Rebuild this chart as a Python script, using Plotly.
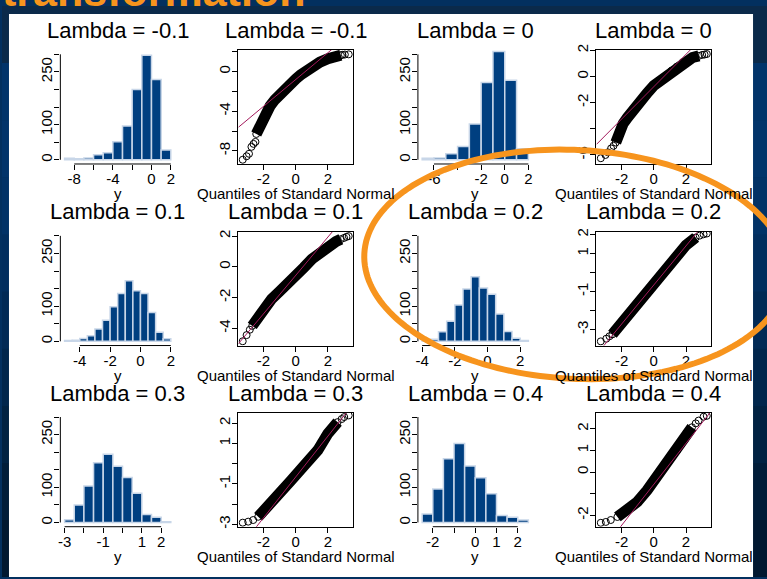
import numpy as np
import plotly.graph_objects as go

W, H = 767, 579
FONT = "Liberation Sans, Arial, Helvetica, sans-serif"

# ---------------- data ----------------
lambdas = ["-0.1", "0", "0.1", "0.2", "0.3", "0.4"]

hist_start = [-9, -7, -5, -4, -3, -2.5]
hist_width = [1, 1, 0.5, 0.5, 0.5, 0.5]
hist_counts_m01 = [4, 3, 5, 14, 20, 51, 96, 200, 297, 228, 28]
hist_counts_0 = [4, 5, 17, 38, 102, 220, 308, 226, 31]
hist_counts_01 = [2, 3, 8, 16, 35, 60, 98, 136, 172, 144, 136, 82, 26, 7]
hist_counts_02 = [1, 6, 27, 57, 103, 149, 184, 152, 134, 78, 28, 9, 2]
hist_counts_03 = [8, 50, 104, 170, 194, 160, 128, 83, 23, 15, 2]
hist_counts_04 = [24, 95, 181, 225, 161, 127, 82, 20, 15, 7]
hist_counts = [hist_counts_m01, hist_counts_0, hist_counts_01,
               hist_counts_02, hist_counts_03, hist_counts_04]

hist_xticks = [[-8, -6, -4, -2, 0, 2], [-6, -4, -2, 0, 2], [-4, -2, 0, 2],
               [-4, -2, 0, 2], [-3, -2, -1, 0, 1, 2], [-2, -1, 0, 1, 2]]
hist_xlabels = [["-8", "", "-4", "", "0", "2"], ["-6", "", "-2", "0", "2"],
                ["-4", "-2", "0", "2"], ["-4", "-2", "0", "2"],
                ["-3", "", "-1", "", "1", "2"], ["-2", "", "0", "1", "2"]]
hist_yticks = [0, 50, 100, 150, 200, 250, 300]
hist_ylabels = ["0", "", "100", "", "", "250", ""]

# QQ plots: dense band points and isolated circles (theoretical, sample)
qq_band_x = [
    [-2.45, -2.3, -2.1, -1.9, -1.6, -1.3, -1.0, -0.67, -0.3, 0, 0.3, 0.67, 1.0, 1.5, 2.0, 2.4, 2.8],
    [-2.36, -2.16, -1.9, -1.64, -1.3, -1.02, -0.67, -0.41, 0, 0.21, 0.5, 0.83, 1.1, 1.44, 1.8, 2.06, 2.4, 2.8],
    [-2.7, -2.4, -2.0, -1.5, -1.0, -0.5, 0, 0.5, 1.0, 1.5, 2.0, 2.5, 2.8],
    [-2.57, -2.0, -1.0, 0, 1.0, 2.0, 2.6],
    [-2.33, -1.71, -1.09, -0.27, 0.55, 1.37, 1.99, 2.6],
    [-2.26, -1.64, -1.02, -0.41, 0.21, 0.83, 1.44, 1.96, 2.37],
]
qq_band_y = [
    [-6.3, -5.7, -5.0, -4.3, -3.5, -2.85, -2.3, -1.72, -1.15, -0.75, -0.35, 0.15, 0.5, 0.95, 1.3, 1.5, 1.65],
    [-5.05, -4.3, -3.6, -3.15, -2.55, -2.14, -1.62, -1.26, -0.7, -0.5, -0.15, 0.13, 0.45, 0.76, 1.1, 1.27, 1.45, 1.58],
    [-3.85, -3.35, -2.8, -2.1, -1.6, -1.15, -0.6, -0.05, 0.5, 0.95, 1.35, 1.65, 1.8],
    [-3.25, -2.65, -1.65, -0.6, 0.45, 1.45, 1.85],
    [-2.63, -2.13, -1.56, -0.82, -0.08, 0.66, 1.48, 2.05],
    [-2.08, -1.77, -1.38, -0.84, -0.23, 0.46, 1.0, 1.54, 2.07],
]
qq_pts_x = [
    [-3.29, -3.05, -2.9, -2.75, -2.62, -2.5, 2.9, 3.05, 3.29],
    [-3.29, -3.0, -2.85, -2.65, -2.5, 3.0, 3.15, 3.29],
    [-3.29, -3.05, -2.85, 3.0, 3.15, 3.29],
    [-3.29, -2.95, -2.75, 2.85, 3.09, 3.29],
    [-3.29, -2.95, -2.64, 2.85, 3.01, 3.29],
    [-3.29, -2.98, -2.67, 2.6, 2.78, 3.09, 3.29],
]
qq_pts_y = [
    [-8.9, -8.55, -8.3, -7.6, -7.3, -7.1, 1.69, 1.72, 1.74],
    [-6.25, -6.0, -5.8, -5.5, -5.3, 1.65, 1.68, 1.72],
    [-4.85, -4.45, -4.1, 1.88, 1.95, 2.0],
    [-3.62, -3.48, -3.35, 1.95, 2.02, 2.06],
    [-2.92, -2.87, -2.79, 2.2, 2.3, 2.38],
    [-2.35, -2.31, -2.22, 2.25, 2.38, 2.56, 2.6],
]
qq_line_intercept = [-0.8, -0.78, -0.56, -0.65, -0.66, -0.57]
qq_line_slope = [1.355, 1.24, 1.25, 1.03, 1.01, 0.95]

qq_yrange = [[-9.33, 2.17], [-6.69, 2.02], [-5.13, 2.29],
             [-3.84, 2.16], [-3.12, 2.51], [-2.53, 2.74]]
qq_yticks = [[-8, -6, -4, -2, 0, 2], [-6, -4, -2, 0, 2], [-4, -2, 0, 2],
             [-3, -2, -1, 0, 1, 2], [-3, -2, -1, 0, 1, 2], [-2, -1, 0, 1, 2]]
qq_ylabels = [["-8", "", "-4", "", "0", ""], ["-6", "", "-2", "0", "2"],
              ["-4", "-2", "0", "2"], ["-3", "", "-1", "", "1", "2"],
              ["-3", "", "-1", "", "1", "2"], ["-2", "", "0", "1", "2"]]
qq_xticks = [-2, 0, 2]
qq_xrange = [-3.56, 3.56]

# ---------------- layout geometry (pixels) ----------------
col_left = [58.5, 237.0, 417.0, 596.0]
col_w = 115.0
row_top = [44.7, 228.8, 412.5]
row_h = 115.5

BAR_FILL = "#003f80"
BAR_EDGE = "#c8d6e8"
QQ_LINE = "#a3195b"
ORANGE = "#f7941d"


def px(x):
    return x / W


def py(y):
    return 1 - y / H


fig = go.Figure()
layout = dict(width=W, height=H, margin=dict(l=0, r=0, t=0, b=0),
              paper_bgcolor="#03305f", plot_bgcolor="rgba(0,0,0,0)",
              showlegend=False, font=dict(family=FONT, color="black"))
shapes = []
annotations = []

# background bands (slide gradient)
bg_cols = ["#0b2a4a", "#02346a", "#02346a", "#023266", "#022e5e", "#022a55",
           "#01264c", "#012242", "#011d39", "#011830"]
for i, c in enumerate(bg_cols):
    shapes.append(dict(type="rect", xref="paper", yref="paper", layer="below",
                       x0=0, x1=1, y0=1 - (i + 1) / len(bg_cols), y1=1 - i / len(bg_cols),
                       fillcolor=c, line=dict(width=0)))
# white panel
shapes.append(dict(type="rect", xref="paper", yref="paper", layer="below",
                   x0=px(7), x1=px(753), y0=0, y1=py(8),
                   fillcolor="white", line=dict(width=0)))

tickfont = dict(family=FONT, size=15, color="black")

for r in range(3):
    for c in range(4):
        n = r * 4 + c + 1
        k = 2 * r + c // 2
        xa = "x" if n == 1 else f"x{n}"
        ya = "y" if n == 1 else f"y{n}"
        xkey = "xaxis" if n == 1 else f"xaxis{n}"
        ykey = "yaxis" if n == 1 else f"yaxis{n}"
        x0p, x1p = col_left[c], col_left[c] + col_w
        y0p, y1p = row_top[r], row_top[r] + row_h
        xdom = [px(x0p), px(x1p)]
        ydom = [py(y1p), py(y0p)]
        base = dict(showgrid=False, zeroline=False, ticks="outside", ticklen=5,
                    tickwidth=1, tickcolor="black", tickfont=tickfont,
                    fixedrange=True)
        if c % 2 == 0:
            counts = hist_counts[k]
            w = hist_width[k]
            lo = hist_start[k]
            hi = lo + w * len(counts)
            pad = 0.04 * (hi - lo)
            centers = [lo + w * (i + 0.5) for i in range(len(counts))]
            fig.add_trace(go.Bar(x=centers, y=counts, width=w, xaxis=xa, yaxis=ya,
                                 marker=dict(color=BAR_FILL,
                                             line=dict(color=BAR_EDGE, width=1.5)),
                                 hoverinfo="skip"))
            layout[xkey] = dict(base, domain=xdom, anchor=ya, range=[lo - pad, hi + pad],
                                tickvals=hist_xticks[k], ticktext=hist_xlabels[k],
                                showline=False, ticklabelstandoff=-4)
            ymax = hist_yticks[-1]
            layout[ykey] = dict(base, domain=ydom, anchor=xa,
                                range=[-0.04 * ymax, 1.04 * ymax],
                                tickvals=hist_yticks, ticktext=hist_ylabels,
                                tickangle=-90, showline=False, ticklabelstandoff=-4)
            xr = f"{xa} domain"
            yr = f"{ya} domain"
            shapes.append(dict(type="line", xref=xa, yref=yr,
                               x0=min(hist_xticks[k]), x1=max(hist_xticks[k]), y0=0, y1=0,
                               line=dict(color="black", width=1)))
            shapes.append(dict(type="line", xref=xr, yref=ya, x0=0, x1=0,
                               y0=min(hist_yticks), y1=max(hist_yticks),
                               line=dict(color="black", width=1)))
            xtitle = "y"
        else:
            fig.add_trace(go.Scatter(x=qq_band_x[k], y=qq_band_y[k], mode="lines",
                                     xaxis=xa, yaxis=ya, hoverinfo="skip",
                                     line=dict(color="black", width=11)))
            fig.add_trace(go.Scatter(x=qq_pts_x[k] + qq_band_x[k],
                                     y=qq_pts_y[k] + qq_band_y[k], mode="markers",
                                     xaxis=xa, yaxis=ya, hoverinfo="skip",
                                     marker=dict(symbol="circle-open", size=7,
                                                 color="black", line=dict(width=1))))
            lx = qq_xrange
            ly = [qq_line_intercept[k] + qq_line_slope[k] * v for v in lx]
            fig.add_trace(go.Scatter(x=lx, y=ly, mode="lines", xaxis=xa, yaxis=ya,
                                     hoverinfo="skip",
                                     line=dict(color=QQ_LINE, width=1)))
            layout[xkey] = dict(base, domain=xdom, anchor=ya, range=qq_xrange,
                                tickvals=qq_xticks, ticktext=[str(v) for v in qq_xticks],
                                showline=True, linecolor="black", linewidth=1,
                                mirror=True, ticklabelstandoff=-4)
            layout[ykey] = dict(base, domain=ydom, anchor=xa, range=qq_yrange[k],
                                tickvals=qq_yticks[k], ticktext=qq_ylabels[k],
                                tickangle=-90, showline=True, linecolor="black",
                                linewidth=1, mirror=True, ticklabelstandoff=-4)
            xtitle = "Quantiles of Standard Normal"
        cx = (x0p + x1p) / 2
        annotations.append(dict(text=f"Lambda = {lambdas[k]}", xref="paper", yref="paper",
                                x=px(cx), y=py(y0p - 20), xanchor="center",
                                yanchor="middle", showarrow=False,
                                font=dict(family=FONT, size=22, color="black")))
        annotations.append(dict(text=xtitle, xref="paper", yref="paper",
                                x=px(cx), y=py(y1p + 30), xanchor="center",
                                yanchor="middle", showarrow=False,
                                font=dict(family=FONT, size=15, color="black")))

# slide title (mostly cut off at the top)
annotations.append(dict(text="<b>transformation</b>", xref="paper", yref="paper",
                        x=px(-2), y=py(11), xanchor="left", yanchor="bottom",
                        showarrow=False,
                        font=dict(family=FONT, size=43, color=ORANGE)))

# orange highlight ellipse
cxe, cye, ae, be, th = 575, 262, 212, 116, np.deg2rad(3)
t = np.linspace(0, 2 * np.pi, 181)
ex = cxe + ae * np.cos(t) * np.cos(th) - be * np.sin(t) * np.sin(th)
ey = cye + ae * np.cos(t) * np.sin(th) + be * np.sin(t) * np.cos(th)
path = "M " + " L ".join(f"{px(a):.5f},{py(b):.5f}" for a, b in zip(ex, ey)) + " Z"
shapes.append(dict(type="path", xref="paper", yref="paper", path=path,
                   line=dict(color=ORANGE, width=6), layer="above"))

layout["shapes"] = shapes
layout["annotations"] = annotations
fig.update_layout(**layout)
fig.write_html("out.html")
